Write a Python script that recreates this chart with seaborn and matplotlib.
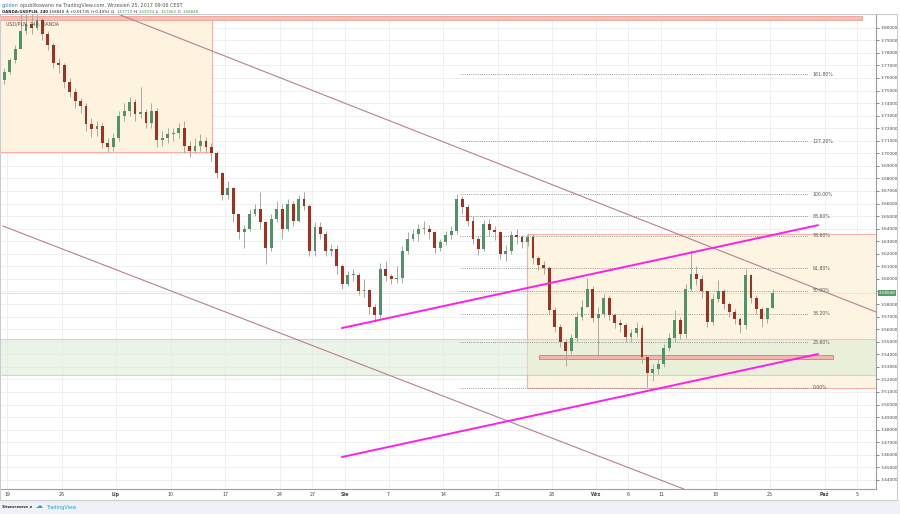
import numpy as np
import pandas as pd
import matplotlib
matplotlib.use("Agg")
import matplotlib.pyplot as plt
import matplotlib.transforms as mtransforms
from matplotlib.patches import Rectangle
import seaborn as sns

# ---------------- data (12h candles, x = trading-day index, 0 = 19 Jun) ----------------
first_open = 3.758
close = [3.765, 3.774, 3.783, 3.797, 3.803, 3.800, 3.806, 3.795, 3.786, 3.772,
         3.770, 3.757, 3.749, 3.742, 3.738, 3.723, 3.719, 3.722, 3.708, 3.705,
         3.712, 3.730, 3.734, 3.741, 3.731, 3.733, 3.724, 3.734, 3.711, 3.712,
         3.715, 3.716, 3.720, 3.706, 3.702, 3.706, 3.710, 3.705, 3.700, 3.684,
         3.667, 3.672, 3.652, 3.637, 3.640, 3.652, 3.656, 3.645, 3.625, 3.648,
         3.656, 3.640, 3.660, 3.646, 3.664, 3.658, 3.622, 3.641, 3.636, 3.622,
         3.624, 3.610, 3.596, 3.603, 3.603, 3.590, 3.591, 3.578, 3.571, 3.608,
         3.602, 3.600, 3.601, 3.622, 3.632, 3.636, 3.640, 3.640, 3.637, 3.625,
         3.629, 3.635, 3.638, 3.664, 3.657, 3.646, 3.632, 3.624, 3.644, 3.639,
         3.637, 3.620, 3.622, 3.635, 3.633, 3.629, 3.633, 3.617, 3.611, 3.609,
         3.575, 3.562, 3.550, 3.543, 3.553, 3.570, 3.578, 3.592, 3.569, 3.572,
         3.585, 3.571, 3.565, 3.563, 3.554, 3.557, 3.561, 3.538, 3.525, 3.528,
         3.532, 3.545, 3.553, 3.567, 3.556, 3.592, 3.604, 3.600, 3.590, 3.566,
         3.584, 3.590, 3.580, 3.574, 3.568, 3.563, 3.603, 3.585, 3.576, 3.568,
         3.57719, 3.58848]
high = [3.768, 3.776, 3.786, 3.812, 3.812, 3.812, 3.812, 3.808, 3.797, 3.788,
        3.776, 3.772, 3.760, 3.752, 3.744, 3.740, 3.728, 3.726, 3.724, 3.712,
        3.716, 3.734, 3.740, 3.745, 3.743, 3.753, 3.735, 3.740, 3.736, 3.718,
        3.720, 3.720, 3.724, 3.726, 3.710, 3.712, 3.715, 3.713, 3.708, 3.702,
        3.685, 3.678, 3.673, 3.652, 3.643, 3.656, 3.660, 3.669, 3.645, 3.652,
        3.662, 3.660, 3.664, 3.662, 3.667, 3.669, 3.660, 3.645, 3.645, 3.638,
        3.628, 3.627, 3.612, 3.606, 3.608, 3.605, 3.600, 3.592, 3.580, 3.613,
        3.614, 3.604, 3.610, 3.626, 3.637, 3.640, 3.644, 3.646, 3.643, 3.638,
        3.632, 3.638, 3.642, 3.6676, 3.666, 3.660, 3.650, 3.634, 3.647, 3.648,
        3.642, 3.638, 3.627, 3.638, 3.640, 3.635, 3.636, 3.636, 3.618, 3.614,
        3.610, 3.578, 3.564, 3.552, 3.556, 3.574, 3.583, 3.601, 3.594, 3.578,
        3.588, 3.587, 3.573, 3.568, 3.565, 3.560, 3.566, 3.563, 3.535, 3.532,
        3.536, 3.548, 3.557, 3.575, 3.570, 3.596, 3.623, 3.610, 3.603, 3.590,
        3.588, 3.599, 3.592, 3.582, 3.576, 3.570, 3.608, 3.604, 3.587, 3.578,
        3.578, 3.59194]
low = [3.755, 3.763, 3.772, 3.784, 3.795, 3.795, 3.798, 3.790, 3.782, 3.768,
       3.764, 3.752, 3.745, 3.736, 3.732, 3.718, 3.713, 3.714, 3.704, 3.701,
       3.702, 3.710, 3.726, 3.730, 3.726, 3.728, 3.720, 3.720, 3.705, 3.706,
       3.708, 3.710, 3.712, 3.700, 3.697, 3.700, 3.702, 3.700, 3.694, 3.680,
       3.663, 3.664, 3.645, 3.632, 3.625, 3.638, 3.650, 3.640, 3.612, 3.622,
       3.645, 3.632, 3.638, 3.642, 3.645, 3.655, 3.618, 3.618, 3.632, 3.618,
       3.618, 3.604, 3.592, 3.594, 3.598, 3.587, 3.586, 3.572, 3.566, 3.568,
       3.598, 3.596, 3.597, 3.597, 3.620, 3.630, 3.630, 3.636, 3.632, 3.621,
       3.622, 3.627, 3.632, 3.636, 3.652, 3.642, 3.628, 3.619, 3.622, 3.634,
       3.631, 3.616, 3.614, 3.620, 3.628, 3.625, 3.626, 3.612, 3.607, 3.604,
       3.572, 3.558, 3.546, 3.531, 3.540, 3.550, 3.567, 3.578, 3.566, 3.539,
       3.570, 3.567, 3.561, 3.558, 3.550, 3.550, 3.554, 3.533, 3.514, 3.519,
       3.524, 3.530, 3.543, 3.550, 3.552, 3.553, 3.590, 3.595, 3.585, 3.562,
       3.563, 3.582, 3.576, 3.570, 3.564, 3.557, 3.560, 3.581, 3.572, 3.562,
       3.565, 3.57663]

date_ticks = [0, 5, 10, 15, 20, 25, 28, 31, 35, 40, 45, 50, 54, 57, 60, 65, 70, 75, 78]
date_labels = ["19", "26", "Lip", "10", "17", "24", "27", "Sie", "7", "14", "21", "28",
               "Wrz", "6", "11", "18", "25", "Paź", "5"]
month_labels = {"Lip", "Sie", "Wrz", "Paź"}

fib_levels = [0.0, 23.6, 38.2, 50.0, 61.8, 78.6, 88.6, 100.0, 127.2, 161.8]
fib_low, fib_high = 3.5132, 3.6676
fib_span = [41.6, 73.5]

# trend lines  (day, price) pairs
magenta_upper = [(30.73, 3.5609), (74.4, 3.6428)]
magenta_lower = [(30.73, 3.4582), (74.4, 3.5402)]
mauve_upper = [(10.18, 3.8109), (79.72, 3.5737)]
mauve_lower = [(-0.37, 3.6421), (62.1, 3.4327)]

# zones: (x0, x1, y0, y1)
zone_left = (-0.8, 18.8, 3.7011, 3.8075)
zone_top_band = (-0.8, 78.4, 3.8061, 3.8093)
zone_right = (47.7, 90.0, 3.5135, 3.6358)
zone_green = (-0.8, 90.0, 3.5233, 3.5519)
zone_support = (48.8, 75.8, 3.5360, 3.5394)

last_price = 3.58848

header_1 = [("golden", "#3b83c4"),
            ("opublikowano na TradingView.com, Wrzesień 25, 2017 09:06 CEST", "#555555")]
header_2 = [("OANDA:USDPLN, 240", "#222222"), ("3.58848", "#222222"), ("▲", "#3a9a4a"),
            ("+0.01735 (+0.49%)", "#222222"), ("O:", "#222222"), ("3.57719", "#3a9a4a"),
            ("H:", "#222222"), ("3.59194", "#3a9a4a"), ("L:", "#222222"),
            ("3.57663", "#3a9a4a"), ("C:", "#222222"), ("3.58848", "#3a9a4a")]

# ---------------- figure ----------------
sns.set_theme(style="white")
plt.rcParams["font.family"] = ["DejaVu Sans"]

W, H = 900, 514
fig = plt.figure(figsize=(W / 100, H / 100), dpi=100)
fig.patch.set_facecolor("white")

# footer background
fig.patches.append(Rectangle((0, 0), 1, (H - 500) / H, transform=fig.transFigure,
                             facecolor="#eef1f5", edgecolor="none", zorder=0))
# widget frame
fig.patches.append(Rectangle((0, (H - 500) / H), 897 / W, (500 - 14) / H,
                             transform=fig.transFigure, facecolor="none",
                             edgecolor="#c9ccd1", lw=0.8, zorder=5))

ax = fig.add_axes([0, (H - 489) / H, 876 / W, (489 - 14) / H])
ax.set_facecolor("white")
ax.set_xlim(-0.642, 79.72)
ax.set_ylim(3.43274, 3.81092)

# grid; the 3.59000 label sits under the last-price tag, as in the original
yt = np.round(np.arange(3.44, 3.8001, 0.01), 2)
ax.set_yticks(yt)
ax.set_yticklabels(["" if abs(v - 3.59) < 1e-9 else f"{v:.5f}" for v in yt])
ax.set_xticks(date_ticks)
ax.set_xticklabels(date_labels)
ax.grid(True, color="#eceef2", lw=0.6, zorder=0)
ax.set_axisbelow(True)

ax.yaxis.tick_right()
ax.tick_params(axis="y", labelsize=3.1, colors="#555555", length=2, width=0.5, pad=1.5,
               labelcolor="#444444")
ax.tick_params(axis="x", labelsize=3.4, length=0, pad=2.2, labelcolor="#444444")
for lbl in ax.get_xticklabels():
    if lbl.get_text() in month_labels:
        lbl.set_fontweight("bold")
for s in ["top", "left"]:
    ax.spines[s].set_visible(False)
for s in ["right", "bottom"]:
    ax.spines[s].set_color("#9aa0a8")
    ax.spines[s].set_linewidth(0.8)

# zones
def add_zone(z, fc, ec, lw=0.8, alpha=1.0, zo=1):
    x0, x1, y0, y1 = z
    ax.add_patch(Rectangle((x0, y0), x1 - x0, y1 - y0, facecolor=fc, edgecolor=ec,
                           lw=lw, alpha=alpha, zorder=zo))

add_zone(zone_left, "#fdf2dc", "#f2aaa0", 0.8, 0.9, 1)
add_zone(zone_right, "#fdf4df", "#f2aaa0", 0.8, 0.9, 1)
add_zone(zone_green, "#dcebd5", "#a9c4a4", 0.8, 0.55, 1.2)
add_zone(zone_top_band, "#f6c0b6", "#ef9f94", 0.6, 1.0, 1.5)
add_zone(zone_support, "#f2b6ac", "#e0857a", 0.7, 1.0, 3)

# last price line
ax.axhline(last_price, color="#dfe6e0", lw=0.8, zorder=1.3)

# fibonacci levels
for lvl in fib_levels:
    p = fib_low + (fib_high - fib_low) * lvl / 100.0
    ax.plot(fib_span, [p, p], ls=(0, (1.0, 1.6)), color="#7a7a7a", lw=0.6, zorder=2)
    ax.text(fib_span[1] + 0.4, p, f"{lvl:.2f}%", fontsize=3.3, color="#555555",
            va="center", ha="left", zorder=6)

# diagonal mauve lines
for seg in (mauve_upper, mauve_lower):
    (x0, y0), (x1, y1) = seg
    ax.plot([x0, x1], [y0, y1], color="#b97f8f", lw=0.8, zorder=2.5)

# candles
n = len(close)
xs = -0.25 + 0.5 * np.arange(n)
opn = [first_open] + close[:-1]
df = pd.DataFrame({"x": xs, "open": opn, "close": close, "high": high, "low": low})
up = df["close"] >= df["open"]
body_col = np.where(up, "#4f9465", "#a1301f")
ax.vlines(df["x"], df["low"], df["high"], color="#a8a8a8", lw=0.7, zorder=3.5)
body = (df["close"] - df["open"]).to_numpy()
body = np.where(np.abs(body) < 0.0006, np.where(body >= 0, 0.0006, -0.0006), body)
ax.bar(df["x"], body, bottom=df["open"], width=0.26, color=body_col, lw=0, zorder=4)

# magenta trend lines via seaborn
rows = []
for name, seg in (("upper", magenta_upper), ("lower", magenta_lower)):
    for (xx, yy) in seg:
        rows.append({"line": name, "d": xx, "p": yy})
tl = pd.DataFrame(rows)
sns.lineplot(data=tl, x="d", y="p", units="line", estimator=None, color="#ff1fe8",
             lw=1.4, ax=ax, zorder=5, legend=False)
ax.set_xlabel("")
ax.set_ylabel("")

# last price tag on axis
trans = mtransforms.blended_transform_factory(ax.transAxes, ax.transData)
ax.text(1.003, last_price, f"{last_price:.5f}", transform=trans, fontsize=3.0,
        color="white", ha="left", va="center", clip_on=False, zorder=10,
        bbox=dict(boxstyle="square,pad=0.22", fc="#5a9b6b", ec="none"))

# label inside chart
ax.text(6 / 876, 1 - (24 - 14) / 475, "USD/PLN, 240, OANDA", transform=ax.transAxes,
        fontsize=3.4, color="#555555", va="center", ha="left", zorder=7)

# ---------------- header / footer texts (placed one after another) ----------------
renderer = fig.canvas.get_renderer()

def text_run(x, y, parts, size=3.3, gap=1.6, weights=None):
    for i, (s, c) in enumerate(parts):
        wgt = weights[i] if weights else "normal"
        t = fig.text(x / W, 1 - y / H, s, color=c, fontsize=size, fontweight=wgt,
                     va="center", ha="left")
        bb = t.get_window_extent(renderer)
        x = bb.x1 + gap

text_run(2, 5, header_1, size=3.5, gap=1.4)
text_run(2, 11.7, header_2, size=2.8, gap=1.1,
         weights=["bold"] + ["normal"] * (len(header_2) - 1))
text_run(2, 507, [("Stworzone z", "#333333")], size=3.2, weights=["bold"])
text_run(36, 506.3, [("☁", "#2a9fd8")], size=5.0)
text_run(46, 507, [("TradingView", "#2a9fd8")], size=3.6)

fig.savefig("out.png", dpi=100, facecolor=fig.get_facecolor())
